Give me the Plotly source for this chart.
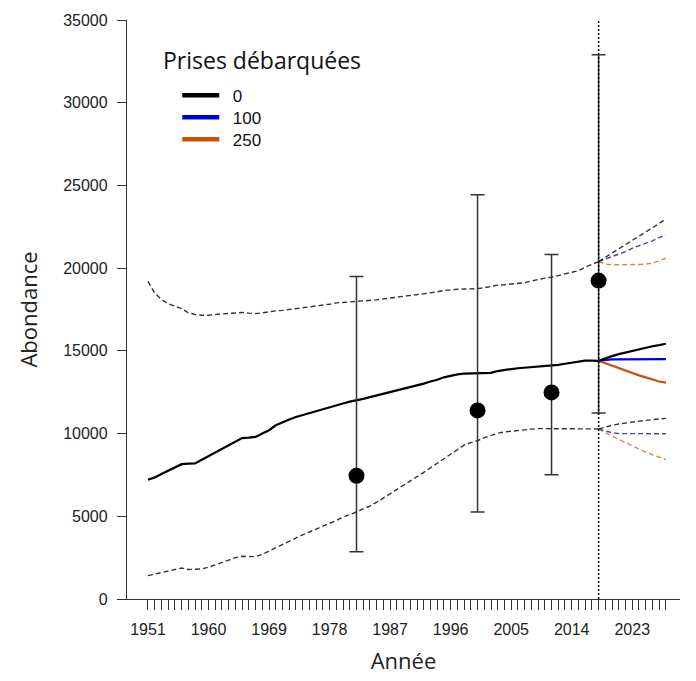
import plotly.graph_objects as go

# ---------------- data ----------------
years_hist = list(range(1951, 2019))
abund_mid = [7210, 7350, 7550, 7750, 7950, 8150, 8180, 8200, 8420, 8640,
             8860, 9080, 9300, 9520, 9730, 9750, 9800, 10000, 10200, 10500,
             10700, 10850, 11000, 11120, 11250, 11380, 11500, 11600, 11700, 11820,
             11930, 12000, 12100, 12200, 12300, 12400, 12500, 12600, 12700, 12800,
             12900, 13020, 13150, 13250, 13400, 13500, 13580, 13620, 13640, 13650,
             13660, 13670, 13780, 13860, 13900, 13950, 13980, 14020, 14050, 14080,
             14100, 14150, 14220, 14270, 14350, 14410, 14410, 14400]
abund_upper = [19200, 18500, 18100, 17850, 17700, 17550, 17300, 17200, 17150, 17150,
               17200, 17220, 17250, 17300, 17320, 17280, 17250, 17300, 17380, 17420,
               17450, 17500, 17550, 17600, 17650, 17700, 17750, 17820, 17900, 17930,
               17950, 17950, 17980, 18020, 18080, 18140, 18200, 18240, 18280, 18340,
               18400, 18450, 18500, 18570, 18650, 18700, 18720, 18740, 18750, 18760,
               18820, 18900, 18970, 19000, 19030, 19060, 19120, 19220, 19330, 19400,
               19450, 19550, 19650, 19750, 19850, 20050, 20220, 20400]
abund_lower = [1410, 1500, 1600, 1700, 1800, 1870, 1780, 1780, 1820, 1920,
               2050, 2200, 2350, 2500, 2580, 2560, 2560, 2700, 2900, 3120,
               3330, 3520, 3700, 3880, 4050, 4220, 4400, 4580, 4750, 4950,
               5100, 5260, 5450, 5620, 5850, 6100, 6350, 6600, 6850, 7100,
               7380, 7650, 7930, 8200, 8480, 8760, 9030, 9300, 9450, 9570,
               9750, 9900, 10020, 10100, 10150, 10190, 10230, 10270, 10300, 10300,
               10290, 10280, 10280, 10280, 10270, 10280, 10280, 10280]

years_proj = list(range(2018, 2029))
catch_levels = ["0", "100", "250"]
proj_mid = {
    "0":   [14400, 14550, 14680, 14800, 14900, 15000, 15100, 15200, 15280, 15350, 15430],
    "100": [14400, 14450, 14480, 14480, 14480, 14500, 14500, 14500, 14500, 14500, 14500],
    "250": [14400, 14250, 14100, 13950, 13800, 13650, 13520, 13400, 13280, 13150, 13080],
}
proj_upper = {
    "0":   [20400, 20650, 20900, 21150, 21400, 21650, 21900, 22150, 22400, 22700, 22970],
    "100": [20400, 20550, 20700, 20850, 21000, 21200, 21350, 21500, 21650, 21850, 22000],
    "250": [20400, 20250, 20200, 20200, 20200, 20200, 20220, 20250, 20300, 20450, 20600],
}
proj_lower = {
    "0":   [10280, 10400, 10500, 10580, 10650, 10700, 10750, 10800, 10850, 10900, 10920],
    "100": [10280, 10150, 10050, 10000, 10000, 10000, 10000, 10000, 10000, 10000, 9990],
    "250": [10280, 10050, 9850, 9650, 9450, 9250, 9050, 8880, 8720, 8560, 8420],
}

obs_years = [1982, 2000, 2011, 2018]
obs_values = [7450, 11400, 12490, 19250]
obs_upper = [19500, 24440, 20830, 32900]
obs_lower = [2850, 5260, 7510, 11240]

xtick_labels = [1951, 1960, 1969, 1978, 1987, 1996, 2005, 2014, 2023]
ytick_vals = [0, 5000, 10000, 15000, 20000, 25000, 30000, 35000]
projection_start = 2018

# ---------------- styles / layout helpers ----------------
solid_col = {"0": "#000000", "100": "#0000dd", "250": "#c8500a"}
dash_col = {"0": "rgba(40,40,40,0.95)", "100": "rgba(50,50,150,0.9)", "250": "rgba(200,130,70,0.9)"}
DASH = "5px,3px"

BODY = 8  # default page margin of the html body
PX_L, PX_R, PX_T, PX_B = 126.7, 680.0, 20.4, 599.3   # plot area in window pixels
PW, PH = PX_R - PX_L, PX_B - PX_T


def px_x(px):
    return (px - PX_L) / PW


def px_y(py):
    return 1 - (py - PX_T) / PH


fig = go.Figure()

# historical band
fig.add_trace(go.Scatter(x=years_hist, y=abund_upper, mode="lines",
                         line=dict(color="#333", width=1.4, dash=DASH), showlegend=False, hoverinfo="skip"))
fig.add_trace(go.Scatter(x=years_hist, y=abund_lower, mode="lines",
                         line=dict(color="#333", width=1.4, dash=DASH), showlegend=False, hoverinfo="skip"))

# projections (draw 250 first so 0 on top)
for lvl in reversed(catch_levels):
    fig.add_trace(go.Scatter(x=years_proj, y=proj_upper[lvl], mode="lines",
                             line=dict(color=dash_col[lvl], width=1.4, dash=DASH), showlegend=False))
    fig.add_trace(go.Scatter(x=years_proj, y=proj_lower[lvl], mode="lines",
                             line=dict(color=dash_col[lvl], width=1.4, dash=DASH), showlegend=False))
for lvl in reversed(catch_levels):
    fig.add_trace(go.Scatter(x=years_proj, y=proj_mid[lvl], mode="lines",
                             line=dict(color=solid_col[lvl], width=2.2), showlegend=False))

fig.add_trace(go.Scatter(x=years_hist, y=abund_mid, mode="lines",
                         line=dict(color="#000", width=2.2), showlegend=False))

# observations with error bars
err_plus = [u - v for u, v in zip(obs_upper, obs_values)]
err_minus = [v - l for v, l in zip(obs_values, obs_lower)]
fig.add_trace(go.Scatter(x=obs_years, y=obs_values, mode="markers",
                         marker=dict(color="#000", size=16),
                         error_y=dict(type="data", array=err_plus, arrayminus=err_minus,
                                      color="#333", thickness=1.5, width=7),
                         showlegend=False))

# legend entries: one small legend per catch level
legend_names = ["legend", "legend2", "legend3"]
legend_layout = {}
for i, lvl in enumerate(catch_levels):
    fig.add_trace(go.Scatter(x=[None], y=[None], mode="lines", name="\u2002" + lvl,
                             legend=legend_names[i],
                             line=dict(color=solid_col[lvl], width=4.5)))
    legend_layout[legend_names[i]] = dict(
        x=px_x(177), y=px_y(78 + 22 * i), xanchor="left", yanchor="top",
        bgcolor="rgba(0,0,0,0)",
        font=dict(family="Liberation Sans, Arial", size=17, color="#111"),
        itemwidth=37,
    )

fig.add_vline(x=projection_start, line=dict(color="#000", width=1.5, dash="2px,2px"))

all_years = list(range(1951, 2029))
fig.update_xaxes(
    range=[1947.88, 2030.1],
    tickvals=all_years,
    ticktext=[str(y) if y in xtick_labels else "" for y in all_years],
    ticks="outside", ticklen=10, tickwidth=1.2, tickcolor="#333",
    showline=True, linecolor="#333", linewidth=1.3,
    showgrid=False, zeroline=False, automargin=False,
    tickfont=dict(family="Liberation Sans, Arial", size=16, color="#222"),
    ticklabelstandoff=6,
    title=dict(text="Année", font=dict(family="Open Sans", size=22, color="#222"), standoff=16),
)
fig.update_yaxes(
    range=[0, 35000],
    tickvals=ytick_vals, tickformat="d",
    ticks="outside", ticklen=9, tickwidth=1.2, tickcolor="#333",
    showline=True, linecolor="#333", linewidth=1.3,
    showgrid=False, zeroline=False, automargin=False,
    tickfont=dict(family="Liberation Sans, Arial", size=16, color="#222"),
    ticklabelstandoff=6,
    title=dict(text="Abondance", font=dict(family="Open Sans", size=22, color="#222"), standoff=19),
)

fig.add_annotation(text="Prises débarquées", xref="paper", yref="paper",
                   x=px_x(161), y=px_y(60),
                   xanchor="left", yanchor="middle", showarrow=False,
                   font=dict(family="Open Sans", size=23, color="#111"))

fig.update_layout(
    width=696, height=681,
    margin=dict(l=PX_L - BODY, r=696 - (PX_R - BODY), t=PX_T - BODY, b=681 - (PX_B - BODY)),
    plot_bgcolor="white", paper_bgcolor="white",
    showlegend=True,
    **legend_layout,
)

fig.write_html("out.html")
